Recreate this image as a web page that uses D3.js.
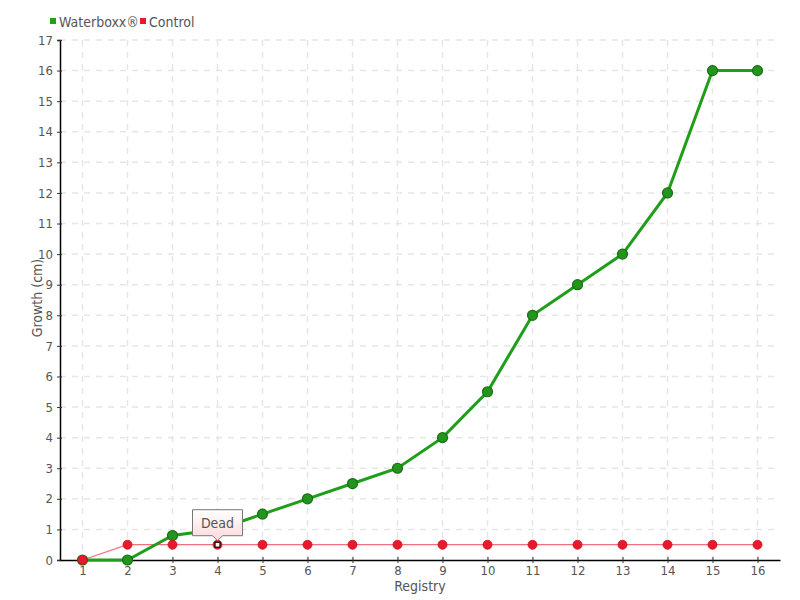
<!DOCTYPE html>
<html><head><meta charset="utf-8">
<script src="https://cdn.jsdelivr.net/npm/d3@7"></script>
<style>
body{margin:0;background:#fff;}
text{font-family:"Liberation Sans Narrow","DejaVu Sans Condensed","Roboto Condensed",sans-serif;fill:#555;}
</style></head><body>
<svg id="c" width="800" height="600"></svg>
<script>
const categories = ["1","2","3","4","5","6","7","8","9","10","11","12","13","14","15","16"];
const waterboxx = [0,0,0.8,1,1.5,2,2.5,3,4,5.5,8,9,10,12,16,16];
const control = [0,0.5,0.5,0.5,0.5,0.5,0.5,0.5,0.5,0.5,0.5,0.5,0.5,0.5,0.5,0.5];
const yTicks = d3.range(0,18);
const seriesNames = ["Waterboxx®","Control"];
const annotation = {index:3, label:"Dead"};

(function(){
const svg = d3.select("#c");
const L=60,R=780,T=40,B=560;
const x = d3.scalePoint().domain(categories).range([L,R]).padding(0.5);
const y = d3.scaleLinear().domain([0,17]).range([B,T]);

// grid
const g = svg.append("g");
g.selectAll("line.h").data(yTicks.slice(1)).join("line").attr("class","h")
  .attr("x1",L).attr("x2",R).attr("y1",d=>y(d)).attr("y2",d=>y(d))
  .attr("stroke","#e6e6e6").attr("stroke-width",1.5).attr("stroke-dasharray","6,6");
g.selectAll("line.v").data(categories).join("line").attr("class","v")
  .attr("x1",d=>x(d)).attr("x2",d=>x(d)).attr("y1",T).attr("y2",B)
  .attr("stroke","#e6e6e6").attr("stroke-width",1.5).attr("stroke-dasharray","6,6");

// axes
const ya = svg.append("g").attr("transform",`translate(${L},0)`)
  .call(d3.axisLeft(y).tickValues(yTicks).tickSize(3).tickPadding(4));
ya.select(".domain").attr("stroke","#000").attr("stroke-width",1.5);
ya.selectAll(".tick line").attr("x2",2).attr("x1",-3).attr("stroke","#333");
ya.selectAll("text").style("font-size","13px").attr("fill","#555");

const xa = svg.append("g").attr("transform",`translate(0,${B})`)
  .call(d3.axisBottom(x).tickSize(3).tickPadding(3).tickSizeOuter(0));
xa.select(".domain").attr("stroke","#000").attr("stroke-width",1.5);
xa.selectAll(".tick line").attr("y1",-3).attr("y2",3).attr("stroke","#333");
xa.selectAll("text").style("font-size","13px").attr("fill","#555");

svg.append("text").attr("x",420).attr("y",591).attr("text-anchor","middle")
  .style("font-size","14px").text("Registry");
svg.append("text").attr("transform","translate(42,298) rotate(-90)").attr("text-anchor","middle")
  .style("font-size","14px").text("Growth (cm)");

// lines
const line = d3.line().x((d,i)=>x(categories[i])).y(d=>y(d));
svg.append("path").datum(control).attr("d",line).attr("fill","none")
  .attr("stroke","#f2707c").attr("stroke-width",1.2);
svg.append("path").datum(waterboxx).attr("d",line).attr("fill","none")
  .attr("stroke","#1f9e1a").attr("stroke-width",3);

svg.selectAll("circle.g").data(waterboxx).join("circle").attr("class","g")
  .attr("cx",(d,i)=>x(categories[i])).attr("cy",d=>y(d)).attr("r",5)
  .attr("fill","#22961c").attr("stroke","#1c6e18").attr("stroke-width",1.2);
svg.selectAll("circle.r").data(control).join("circle").attr("class","r")
  .attr("cx",(d,i)=>x(categories[i])).attr("cy",d=>y(d)).attr("r",4.5)
  .attr("fill","#e8192c").attr("stroke","#d01020").attr("stroke-width",0.8);

// annotation
const ax = x(categories[annotation.index]), ay = y(control[annotation.index]);
svg.append("rect").attr("x",ax-2.5).attr("y",ay-2.5).attr("width",5).attr("height",5)
  .attr("fill","#fff").attr("stroke","#000").attr("stroke-width",1.2);
const defs = svg.append("defs");
const grad = defs.append("linearGradient").attr("id","tg").attr("x1",0).attr("x2",0).attr("y1",0).attr("y2",1);
grad.append("stop").attr("offset","0%").attr("stop-color","#ffffff");
grad.append("stop").attr("offset","100%").attr("stop-color","#fbd9da");
const bx=ax-25,by=ay-35,bw=50,bh=26;
svg.append("path")
  .attr("d",`M${bx},${by} H${bx+bw} V${by+bh} H${ax+5} L${ax},${ay-4} L${ax-5},${by+bh} H${bx} Z`)
  .attr("fill","url(#tg)").attr("stroke","#777").attr("stroke-width",1);
svg.append("text").attr("x",ax).attr("y",by+18).attr("text-anchor","middle")
  .style("font-size","14px").text(annotation.label);

// legend
const leg = svg.append("g");
const legColors=["#22a01c","#e8192c"];
const legX=[50,140];
seriesNames.forEach((n,i)=>{
  leg.append("rect").attr("x",legX[i]).attr("y",18).attr("width",6).attr("height",6).attr("fill",legColors[i]);
  leg.append("text").attr("x",legX[i]+9).attr("y",27).style("font-size","14px").text(n);
});
})();
</script>
</body></html>
